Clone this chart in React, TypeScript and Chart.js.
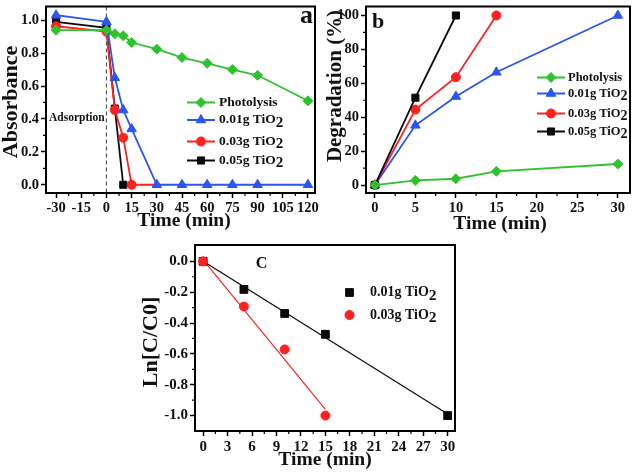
import React, { useEffect, useRef } from "react";
import { Chart, registerables } from "chart.js";
Chart.register(...registerables);

const FONT = "'Liberation Serif', 'Times New Roman', serif";
const GREEN = "#2fc22f";
const BLUE = "#2b55ef";
const RED = "#ff2020";
const BLACK = "#0a0a0a";

// ---------- Panel a: Absorbance vs time ----------
const aTime = [-30, 0, 5, 10, 15, 30, 45, 60, 75, 90, 120];
const aPhotolysis = [0.94, 0.94, 0.917, 0.905, 0.864, 0.824, 0.773, 0.738, 0.7, 0.665, 0.51];
const a001 = [1.03, 0.99, 0.65, 0.454, 0.339, 0, 0, 0, 0, 0, 0];
const a003 = [0.963, 0.93, 0.454, 0.286, 0, 0];
const a005 = [0.99, 0.953, 0.463, 0, 0];
const aXTicks = [-30, -15, 0, 15, 30, 45, 60, 75, 90, 105, 120];
const aXLabels = ["-30", "-15", "0", "15", "30", "45", "60", "75", "90", "105", "120"];
const aYTicks = [0, 0.2, 0.4, 0.6, 0.8, 1.0];
const aYLabels = ["0.0", "0.2", "0.4", "0.6", "0.8", "1.0"];

// ---------- Panel b: Degradation vs time ----------
const bTime = [0, 5, 10, 15, 30];
const bPhotolysis = [0, 2.7, 3.7, 8.1, 12.4];
const b001 = [0, 35.2, 52.2, 66.5, 100];
const b003 = [0, 44.5, 63.6, 100];
const b005 = [0, 51.5, 100];
const bXTicks = [0, 5, 10, 15, 20, 25, 30];
const bXLabels = ["0", "5", "10", "15", "20", "25", "30"];
const bYTicks = [0, 20, 40, 60, 80, 100];
const bYLabels = ["0", "20", "40", "60", "80", "100"];

// ---------- Panel c: Ln[C/C0] vs time ----------
const cTime = [0, 5, 10, 15, 30];
const c001 = [0, -0.182, -0.338, -0.473, -1.0];
const c003 = [0, -0.293, -0.571, -1.0];
const c001FitX = [0, 30];
const c001FitY = [0, -0.99];
const c003FitX = [0, 15];
const c003FitY = [0.01, -0.96];
const cXTicks = [0, 3, 6, 9, 12, 15, 18, 21, 24, 27, 30];
const cXLabels = ["0", "3", "6", "9", "12", "15", "18", "21", "24", "27", "30"];
const cYTicks = [0, -0.2, -0.4, -0.6, -0.8, -1.0];
const cYLabels = ["0.0", "-0.2", "-0.4", "-0.6", "-0.8", "-1.0"];

const LABELS = ["Photolysis", "0.01g TiO2", "0.03g TiO2", "0.05g TiO2"];

type Txt = { text: string; x: number; y: number; size: number; rot?: boolean; align?: CanvasTextAlign; baseline?: CanvasTextBaseline };
type DecoCfg = {
  minorX: number[];
  minorY: number[];
  texts: Txt[];
  legend: { x0: number; x1: number; xm: number; xt: number; line: boolean; size: number; rows: { ds: number; y: number }[] };
  vline?: number;
};

const mid = (t: number[]) => t.slice(1).map((v, i) => (v + t[i]) / 2);

function drawMarker(ctx: CanvasRenderingContext2D, style: string, x: number, y: number, r: number, color: string) {
  ctx.save();
  ctx.fillStyle = color;
  ctx.strokeStyle = color;
  ctx.lineWidth = 1;
  ctx.beginPath();
  if (style === "circle") {
    ctx.arc(x, y, r, 0, Math.PI * 2);
  } else if (style === "rect") {
    const s = Math.SQRT1_2 * r;
    ctx.rect(x - s, y - s, 2 * s, 2 * s);
  } else if (style === "rectRot") {
    ctx.moveTo(x - r, y);
    ctx.lineTo(x, y - r);
    ctx.lineTo(x + r, y);
    ctx.lineTo(x, y + r);
    ctx.closePath();
  } else if (style === "triangle") {
    let a = 0;
    ctx.moveTo(x + Math.sin(a) * r, y - Math.cos(a) * r);
    a += (2 * Math.PI) / 3;
    ctx.lineTo(x + Math.sin(a) * r, y - Math.cos(a) * r);
    a += (2 * Math.PI) / 3;
    ctx.lineTo(x + Math.sin(a) * r, y - Math.cos(a) * r);
    ctx.closePath();
  }
  ctx.fill();
  ctx.stroke();
  ctx.restore();
}

function drawLabel(ctx: CanvasRenderingContext2D, label: string, x: number, y: number, size: number) {
  ctx.font = `bold ${size}px ${FONT}`;
  ctx.textAlign = "left";
  ctx.textBaseline = "middle";
  ctx.fillStyle = "#111";
  if (label.endsWith("TiO2")) {
    const main = label.slice(0, -1);
    ctx.fillText(main, x, y);
    const w = ctx.measureText(main).width;
    ctx.font = `bold ${size + 1.5}px ${FONT}`;
    ctx.fillText("2", x + w, y + 3);
  } else {
    ctx.fillText(label, x, y);
  }
}

function makeDeco(cfg: DecoCfg) {
  return {
    id: "deco",
    beforeDatasetsDraw(chart: any) {
      if (cfg.vline === undefined) return;
      const { ctx, chartArea } = chart;
      const x = chart.scales.x.getPixelForValue(cfg.vline);
      ctx.save();
      ctx.strokeStyle = "#555";
      ctx.lineWidth = 1.2;
      ctx.setLineDash([4, 3]);
      ctx.beginPath();
      ctx.moveTo(x, chartArea.top);
      ctx.lineTo(x, chartArea.bottom);
      ctx.stroke();
      ctx.restore();
    },
    afterDraw(chart: any) {
      const { ctx, chartArea: ca } = chart;
      const xs = chart.scales.x;
      const ys = chart.scales.y;
      ctx.save();
      ctx.strokeStyle = "#000";
      ctx.lineWidth = 2;
      ctx.strokeRect(ca.left, ca.top, ca.right - ca.left, ca.bottom - ca.top);
      ctx.lineWidth = 1.2;
      ctx.beginPath();
      cfg.minorX.forEach((v) => {
        const p = xs.getPixelForValue(v);
        ctx.moveTo(p, ca.bottom);
        ctx.lineTo(p, ca.bottom + 3);
      });
      cfg.minorY.forEach((v) => {
        const p = ys.getPixelForValue(v);
        ctx.moveTo(ca.left, p);
        ctx.lineTo(ca.left - 3, p);
      });
      ctx.stroke();

      cfg.texts.forEach((t) => {
        ctx.save();
        ctx.font = `bold ${t.size}px ${FONT}`;
        ctx.fillStyle = "#111";
        ctx.textAlign = t.align || "center";
        ctx.textBaseline = t.baseline || "middle";
        ctx.translate(t.x, t.y);
        if (t.rot) ctx.rotate(-Math.PI / 2);
        ctx.fillText(t.text, 0, 0);
        ctx.restore();
      });

      const lg = cfg.legend;
      lg.rows.forEach((row) => {
        const ds = chart.data.datasets[row.ds];
        const color = ds.borderColor as string;
        if (lg.line) {
          ctx.save();
          ctx.strokeStyle = color;
          ctx.lineWidth = 2;
          ctx.beginPath();
          ctx.moveTo(lg.x0, row.y);
          ctx.lineTo(lg.x1, row.y);
          ctx.stroke();
          ctx.restore();
        }
        const r = Array.isArray(ds.pointRadius) ? ds.pointRadius[0] : ds.pointRadius;
        drawMarker(ctx, ds.pointStyle, lg.xm, row.y, r, color);
        drawLabel(ctx, ds.label, lg.xt, row.y, lg.size);
      });
      ctx.restore();
    },
  };
}

function series(label: string, xs: number[], ys: number[], color: string, style: string, r: number, order: number, marks: number, lineWidth = 1.8, showLine = true) {
  return {
    label,
    data: ys.map((y, i) => ({ x: xs[i], y })),
    borderColor: color,
    backgroundColor: color,
    borderWidth: lineWidth,
    pointStyle: style,
    pointRadius: ys.map((_, i) => (i < marks ? r : 0)),
    pointBorderWidth: 1,
    showLine,
    order,
    tension: 0,
  };
}

function axis(min: number, max: number, ticks: number[], labels: string[], size: number, fontSize: number, horizontal: boolean) {
  return {
    type: "linear",
    min,
    max,
    afterBuildTicks: (s: any) => {
      s.ticks = ticks.map((v) => ({ value: v }));
    },
    afterFit: (s: any) => {
      if (horizontal) {
        s.height = size;
        s.paddingLeft = 0;
        s.paddingRight = 0;
      } else {
        s.width = size;
        s.paddingTop = 0;
        s.paddingBottom = 0;
      }
    },
    ticks: {
      autoSkip: false,
      maxRotation: 0,
      minRotation: 0,
      padding: 2,
      color: "#111",
      font: { family: FONT, size: fontSize, weight: "bold" },
      callback: (_v: any, i: number) => labels[i],
    },
    grid: { display: true, drawOnChartArea: false, drawTicks: true, tickLength: 5, tickColor: "#000", tickWidth: 1.5 },
    border: { display: true, color: "#000", width: 2 },
    title: { display: false },
  };
}

function baseOptions(padding: any, x: any, y: any) {
  return {
    responsive: false,
    animation: false,
    layout: { padding },
    plugins: { legend: { display: false }, tooltip: { enabled: false }, title: { display: false } },
    scales: { x, y },
  };
}

function configA(): any {
  return {
    type: "scatter",
    data: {
      datasets: [
        series(LABELS[0], aTime, aPhotolysis, GREEN, "rectRot", 5, 0, 11),
        series(LABELS[1], aTime, a001, BLUE, "triangle", 5.5, 1, 11),
        series(LABELS[2], aTime, a003, RED, "circle", 4.5, 2, 5),
        series(LABELS[3], aTime, a005, BLACK, "rect", 5, 3, 4),
      ],
    },
    options: baseOptions(
      { left: 0, top: 2, right: 7, bottom: 0 },
      axis(-36, 124.2, aXTicks, aXLabels, 42, 14.5, true),
      axis(-0.05, 1.083, aYTicks, aYLabels, 46, 14.5, false)
    ),
    plugins: [
      makeDeco({
        minorX: mid(aXTicks),
        minorY: mid(aYTicks),
        vline: 0,
        texts: [
          { text: "Absorbance", x: 11, y: 102, size: 22, rot: true },
          { text: "Time (min)", x: 184, y: 221, size: 19.5 },
          { text: "a", x: 313, y: 23, size: 26, align: "right", baseline: "alphabetic" },
          { text: "Adsorption", x: 49, y: 118, size: 11.5, align: "left" },
        ],
        legend: {
          x0: 187, x1: 215, xm: 201, xt: 219, line: true, size: 13.5,
          rows: [ { ds: 0, y: 102.5 }, { ds: 1, y: 120 }, { ds: 2, y: 141.5 }, { ds: 3, y: 160.5 } ],
        },
      }),
    ],
  };
}

function configB(): any {
  return {
    type: "scatter",
    data: {
      datasets: [
        series(LABELS[0], bTime, bPhotolysis, GREEN, "rectRot", 5, 0, 5),
        series(LABELS[1], bTime, b001, BLUE, "triangle", 5.5, 3, 5),
        series(LABELS[2], bTime, b003, RED, "circle", 4.5, 2, 4),
        series(LABELS[3], bTime, b005, BLACK, "rect", 5, 1, 3),
      ],
    },
    options: baseOptions(
      { left: 0, top: 5, right: 8, bottom: 0 },
      axis(-1.1, 31.5, bXTicks, bXLabels, 42, 14.5, true),
      axis(-4.7, 105.3, bYTicks, bYLabels, 44, 14.5, false)
    ),
    plugins: [
      makeDeco({
        minorX: mid(bXTicks),
        minorY: mid(bYTicks),
        texts: [
          { text: "Degradation (%)", x: 13.5, y: 86, size: 21, rot: true },
          { text: "Time (min)", x: 178, y: 224, size: 19.5 },
          { text: "b", x: 50, y: 28, size: 22, align: "left", baseline: "alphabetic" },
        ],
        legend: {
          x0: 215, x1: 243, xm: 229, xt: 246, line: true, size: 12.5,
          rows: [ { ds: 0, y: 77.5 }, { ds: 1, y: 93.5 }, { ds: 2, y: 113.5 }, { ds: 3, y: 131.5 } ],
        },
      }),
    ],
  };
}

function configC(): any {
  return {
    type: "scatter",
    data: {
      datasets: [
        series(LABELS[1], cTime, c001, BLACK, "rect", 5.5, 1, 5, 1, false),
        series(LABELS[2], cTime, c003, RED, "circle", 4.5, 0, 4, 1, false),
        series("fit 0.01g", c001FitX, c001FitY, BLACK, "circle", 0, 3, 0, 1.2, true),
        series("fit 0.03g", c003FitX, c003FitY, RED, "circle", 0, 2, 0, 1.2, true),
      ],
    },
    options: baseOptions(
      { left: 0, top: 10, right: 15, bottom: 0 },
      axis(-1.0, 30.9, cXTicks, cXLabels, 43, 15, true),
      axis(-1.1, 0.106, cYTicks, cYLabels, 65, 15, false)
    ),
    plugins: [
      makeDeco({
        minorX: mid(cXTicks),
        minorY: mid(cYTicks),
        texts: [
          { text: "Ln[C/C0]", x: 21.5, y: 107, size: 22, rot: true },
          { text: "Time (min)", x: 195, y: 225, size: 19.5 },
          { text: "C", x: 131.5, y: 28.5, size: 16 },
        ],
        legend: {
          x0: 0, x1: 0, xm: 219.5, xt: 240, line: false, size: 14,
          rows: [ { ds: 0, y: 57.5 }, { ds: 1, y: 80 } ],
        },
      }),
    ],
  };
}

export default function App() {
  const aRef = useRef<HTMLCanvasElement>(null);
  const bRef = useRef<HTMLCanvasElement>(null);
  const cRef = useRef<HTMLCanvasElement>(null);

  useEffect(() => {
    const charts = [
      new Chart(aRef.current as HTMLCanvasElement, configA()),
      new Chart(bRef.current as HTMLCanvasElement, configB()),
      new Chart(cRef.current as HTMLCanvasElement, configC()),
    ];
    return () => charts.forEach((c) => c.destroy());
  }, []);

  const abs = (l: number, t: number, w: number, h: number): React.CSSProperties => ({
    position: "absolute", left: l, top: t, width: w, height: h, display: "block",
  });

  return (
    <div style={{ position: "absolute", left: 0, top: 0, width: 638, height: 474, background: "#fff", overflow: "hidden" }}>
      <canvas ref={aRef} width={322} height={235} style={abs(0, 0, 322, 235)} />
      <canvas ref={bRef} width={316} height={235} style={abs(322, 0, 316, 235)} />
      <canvas ref={cRef} width={340} height={239} style={abs(130, 235, 340, 239)} />
    </div>
  );
}
